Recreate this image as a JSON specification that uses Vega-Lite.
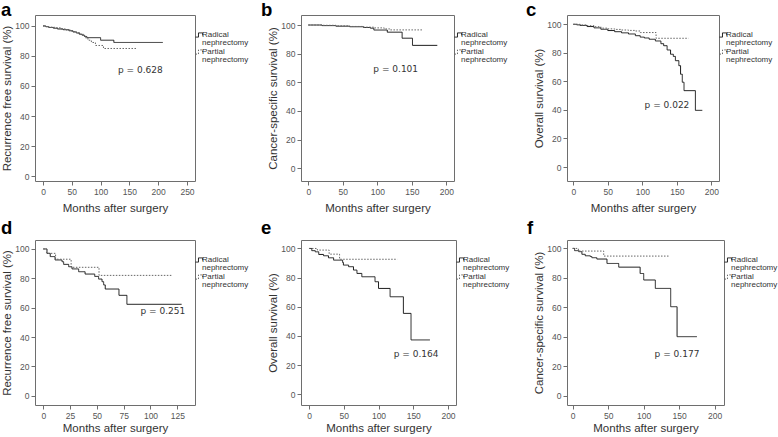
{
  "$schema": "https://vega.github.io/schema/vega-lite/v6.json",
  "padding": {"left": 0, "top": 0, "right": 0, "bottom": 0},
  "background": "white",
  "datasets": {
    "a": [
      {"g": "Radical nephrectomy", "m": 0, "s": 100}, {"g": "Radical nephrectomy", "m": 5, "s": 99.5}, {"g": "Radical nephrectomy", "m": 10, "s": 99}, {"g": "Radical nephrectomy", "m": 18, "s": 98.5}, {"g": "Radical nephrectomy", "m": 25, "s": 98}, {"g": "Radical nephrectomy", "m": 35, "s": 97.5}, {"g": "Radical nephrectomy", "m": 45, "s": 96.8}, {"g": "Radical nephrectomy", "m": 52, "s": 96}, {"g": "Radical nephrectomy", "m": 58, "s": 95.3}, {"g": "Radical nephrectomy", "m": 63, "s": 94.5}, {"g": "Radical nephrectomy", "m": 68, "s": 93.8}, {"g": "Radical nephrectomy", "m": 72, "s": 93}, {"g": "Radical nephrectomy", "m": 76, "s": 92.2}, {"g": "Radical nephrectomy", "m": 100, "s": 90.5}, {"g": "Radical nephrectomy", "m": 123, "s": 89}, {"g": "Radical nephrectomy", "m": 208, "s": 89},
      {"g": "Partial nephrectomy", "m": 0, "s": 100}, {"g": "Partial nephrectomy", "m": 4, "s": 99.6}, {"g": "Partial nephrectomy", "m": 10, "s": 99.2}, {"g": "Partial nephrectomy", "m": 20, "s": 98.8}, {"g": "Partial nephrectomy", "m": 30, "s": 98}, {"g": "Partial nephrectomy", "m": 40, "s": 97.3}, {"g": "Partial nephrectomy", "m": 50, "s": 96.3}, {"g": "Partial nephrectomy", "m": 58, "s": 95.5}, {"g": "Partial nephrectomy", "m": 64, "s": 94.5}, {"g": "Partial nephrectomy", "m": 70, "s": 93.3}, {"g": "Partial nephrectomy", "m": 74, "s": 92}, {"g": "Partial nephrectomy", "m": 78, "s": 90.5}, {"g": "Partial nephrectomy", "m": 84, "s": 89}, {"g": "Partial nephrectomy", "m": 91, "s": 87}, {"g": "Partial nephrectomy", "m": 105, "s": 85}, {"g": "Partial nephrectomy", "m": 163, "s": 85}
    ],
    "b": [
      {"g": "Radical nephrectomy", "m": 0, "s": 100}, {"g": "Radical nephrectomy", "m": 20, "s": 99.6}, {"g": "Radical nephrectomy", "m": 40, "s": 99.2}, {"g": "Radical nephrectomy", "m": 60, "s": 98.8}, {"g": "Radical nephrectomy", "m": 80, "s": 98.3}, {"g": "Radical nephrectomy", "m": 90, "s": 97.8}, {"g": "Radical nephrectomy", "m": 95, "s": 96.5}, {"g": "Radical nephrectomy", "m": 114.5, "s": 95}, {"g": "Radical nephrectomy", "m": 136, "s": 90.8}, {"g": "Radical nephrectomy", "m": 151, "s": 85.8}, {"g": "Radical nephrectomy", "m": 187, "s": 85.8},
      {"g": "Partial nephrectomy", "m": 0, "s": 100}, {"g": "Partial nephrectomy", "m": 20, "s": 99.8}, {"g": "Partial nephrectomy", "m": 40, "s": 99.4}, {"g": "Partial nephrectomy", "m": 60, "s": 99}, {"g": "Partial nephrectomy", "m": 80, "s": 98.5}, {"g": "Partial nephrectomy", "m": 95, "s": 98}, {"g": "Partial nephrectomy", "m": 110, "s": 97.3}, {"g": "Partial nephrectomy", "m": 118, "s": 96.6}, {"g": "Partial nephrectomy", "m": 165, "s": 96.6}
    ],
    "c": [
      {"g": "Radical nephrectomy", "m": 0, "s": 100}, {"g": "Radical nephrectomy", "m": 5, "s": 99.6}, {"g": "Radical nephrectomy", "m": 10, "s": 99.2}, {"g": "Radical nephrectomy", "m": 20, "s": 98.4}, {"g": "Radical nephrectomy", "m": 30, "s": 97.5}, {"g": "Radical nephrectomy", "m": 40, "s": 96.5}, {"g": "Radical nephrectomy", "m": 50, "s": 95.6}, {"g": "Radical nephrectomy", "m": 60, "s": 94.8}, {"g": "Radical nephrectomy", "m": 70, "s": 94}, {"g": "Radical nephrectomy", "m": 80, "s": 93.2}, {"g": "Radical nephrectomy", "m": 90, "s": 92}, {"g": "Radical nephrectomy", "m": 97, "s": 91}, {"g": "Radical nephrectomy", "m": 103, "s": 90.4}, {"g": "Radical nephrectomy", "m": 110, "s": 89.5}, {"g": "Radical nephrectomy", "m": 119, "s": 88.3}, {"g": "Radical nephrectomy", "m": 127, "s": 86.4}, {"g": "Radical nephrectomy", "m": 131, "s": 85}, {"g": "Radical nephrectomy", "m": 136, "s": 82}, {"g": "Radical nephrectomy", "m": 141, "s": 79}, {"g": "Radical nephrectomy", "m": 145, "s": 77.5}, {"g": "Radical nephrectomy", "m": 148, "s": 74.5}, {"g": "Radical nephrectomy", "m": 153, "s": 71}, {"g": "Radical nephrectomy", "m": 155.5, "s": 65}, {"g": "Radical nephrectomy", "m": 158, "s": 59.4}, {"g": "Radical nephrectomy", "m": 160.5, "s": 53.5}, {"g": "Radical nephrectomy", "m": 177, "s": 39.7}, {"g": "Radical nephrectomy", "m": 187, "s": 39.7},
      {"g": "Partial nephrectomy", "m": 0, "s": 100}, {"g": "Partial nephrectomy", "m": 10, "s": 99.5}, {"g": "Partial nephrectomy", "m": 20, "s": 99}, {"g": "Partial nephrectomy", "m": 30, "s": 98.3}, {"g": "Partial nephrectomy", "m": 40, "s": 97.3}, {"g": "Partial nephrectomy", "m": 50, "s": 96.8}, {"g": "Partial nephrectomy", "m": 60, "s": 96.4}, {"g": "Partial nephrectomy", "m": 70, "s": 96}, {"g": "Partial nephrectomy", "m": 80, "s": 95.7}, {"g": "Partial nephrectomy", "m": 90, "s": 95.3}, {"g": "Partial nephrectomy", "m": 97, "s": 94.2}, {"g": "Partial nephrectomy", "m": 120, "s": 90.2}, {"g": "Partial nephrectomy", "m": 167, "s": 90.2}
    ],
    "d": [
      {"g": "Radical nephrectomy", "m": 0, "s": 100}, {"g": "Radical nephrectomy", "m": 3.5, "s": 97}, {"g": "Radical nephrectomy", "m": 6.5, "s": 94.8}, {"g": "Radical nephrectomy", "m": 11, "s": 92.5}, {"g": "Radical nephrectomy", "m": 17.5, "s": 91.3}, {"g": "Radical nephrectomy", "m": 19, "s": 89.5}, {"g": "Radical nephrectomy", "m": 23.7, "s": 87.9}, {"g": "Radical nephrectomy", "m": 26.8, "s": 86.4}, {"g": "Radical nephrectomy", "m": 33, "s": 84.5}, {"g": "Radical nephrectomy", "m": 39, "s": 82.9}, {"g": "Radical nephrectomy", "m": 48, "s": 81.3}, {"g": "Radical nephrectomy", "m": 51.6, "s": 79.5}, {"g": "Radical nephrectomy", "m": 54.8, "s": 77.7}, {"g": "Radical nephrectomy", "m": 56.3, "s": 75.5}, {"g": "Radical nephrectomy", "m": 57.8, "s": 72.7}, {"g": "Radical nephrectomy", "m": 70.6, "s": 68.4}, {"g": "Radical nephrectomy", "m": 78, "s": 62.3}, {"g": "Radical nephrectomy", "m": 129, "s": 62.3},
      {"g": "Partial nephrectomy", "m": 0, "s": 100}, {"g": "Partial nephrectomy", "m": 3, "s": 97}, {"g": "Partial nephrectomy", "m": 11.5, "s": 93}, {"g": "Partial nephrectomy", "m": 26, "s": 87.5}, {"g": "Partial nephrectomy", "m": 52, "s": 82}, {"g": "Partial nephrectomy", "m": 120, "s": 82}
    ],
    "e": [
      {"g": "Radical nephrectomy", "m": 0, "s": 100}, {"g": "Radical nephrectomy", "m": 4, "s": 98.5}, {"g": "Radical nephrectomy", "m": 9, "s": 97.7}, {"g": "Radical nephrectomy", "m": 14, "s": 95.9}, {"g": "Radical nephrectomy", "m": 21, "s": 95}, {"g": "Radical nephrectomy", "m": 28, "s": 93.6}, {"g": "Radical nephrectomy", "m": 35.4, "s": 92}, {"g": "Radical nephrectomy", "m": 48.4, "s": 90.4}, {"g": "Radical nephrectomy", "m": 49.5, "s": 88.6}, {"g": "Radical nephrectomy", "m": 57, "s": 87.5}, {"g": "Radical nephrectomy", "m": 64, "s": 85.2}, {"g": "Radical nephrectomy", "m": 69, "s": 82.9}, {"g": "Radical nephrectomy", "m": 76, "s": 80.6}, {"g": "Radical nephrectomy", "m": 95, "s": 77.2}, {"g": "Radical nephrectomy", "m": 100, "s": 72.6}, {"g": "Radical nephrectomy", "m": 116.7, "s": 66.9}, {"g": "Radical nephrectomy", "m": 135.8, "s": 55.5}, {"g": "Radical nephrectomy", "m": 146.8, "s": 37.3}, {"g": "Radical nephrectomy", "m": 174, "s": 37.3},
      {"g": "Partial nephrectomy", "m": 0, "s": 100}, {"g": "Partial nephrectomy", "m": 12, "s": 98.9}, {"g": "Partial nephrectomy", "m": 29, "s": 96.1}, {"g": "Partial nephrectomy", "m": 44, "s": 92.6}, {"g": "Partial nephrectomy", "m": 127, "s": 92.6}
    ],
    "f": [
      {"g": "Radical nephrectomy", "m": 0, "s": 100}, {"g": "Radical nephrectomy", "m": 2.7, "s": 98.5}, {"g": "Radical nephrectomy", "m": 8.5, "s": 97.8}, {"g": "Radical nephrectomy", "m": 13, "s": 96}, {"g": "Radical nephrectomy", "m": 17.7, "s": 95}, {"g": "Radical nephrectomy", "m": 24.8, "s": 94.5}, {"g": "Radical nephrectomy", "m": 27, "s": 93.7}, {"g": "Radical nephrectomy", "m": 34, "s": 92.8}, {"g": "Radical nephrectomy", "m": 48.3, "s": 89.8}, {"g": "Radical nephrectomy", "m": 64.8, "s": 87.3}, {"g": "Radical nephrectomy", "m": 95, "s": 83}, {"g": "Radical nephrectomy", "m": 100, "s": 78.6}, {"g": "Radical nephrectomy", "m": 116.4, "s": 72.9}, {"g": "Radical nephrectomy", "m": 138, "s": 60.5}, {"g": "Radical nephrectomy", "m": 147, "s": 40.2}, {"g": "Radical nephrectomy", "m": 175, "s": 40.2},
      {"g": "Partial nephrectomy", "m": 0, "s": 100}, {"g": "Partial nephrectomy", "m": 8, "s": 98.2}, {"g": "Partial nephrectomy", "m": 43.7, "s": 94.8}, {"g": "Partial nephrectomy", "m": 135, "s": 94.8}
    ]
  },
  "columns": 3,
  "spacing": {"row": 59, "column": 106},
  "bounds": "flush",
  "align": "all",
  "resolve": {"scale": {"x": "independent", "y": "independent", "color": "independent", "strokeDash": "independent"}, "legend": {"color": "independent", "strokeDash": "independent"}},
  "concat": [
    {
      "width": 160, "height": 166,
      "title": {"text": "a", "dx": -34, "offset": -4},
      "layer": [
        {
          "data": {"name": "a"},
          "mark": {"type": "line", "interpolate": "step-after", "strokeWidth": 1},
          "encoding": {
            "x": {"field": "m", "type": "quantitative", "scale": {"domain": [-13.9, 263.9], "nice": false, "zero": false}, "axis": {"values": [0, 50, 100, 150, 200, 250], "tickCount": 12, "title": "Months after surgery", "titlePadding": 7}},
            "y": {"field": "s", "type": "quantitative", "scale": {"domain": [-3.3, 107.3], "nice": false, "zero": false}, "axis": {"values": [0, 20, 40, 60, 80, 100], "tickCount": 12, "title": "Recurrence free survival (%)"}},
            "color": {"field": "g", "type": "nominal", "scale": {"domain": ["Radical nephrectomy", "Partial nephrectomy"], "range": ["#1a1a1a", "#666666"]}, "legend": {"title": null, "labelExpr": "datum.label == 'Radical nephrectomy' ? ['\u00a0\u00a0\u00a0Radical', 'nephrectomy'] : ['\u00a0\u00a0\u00a0Partial', 'nephrectomy']", "encode": {"labels": {"update": {"lineHeight": {"value": 8}}}}}},
            "strokeDash": {"field": "g", "type": "nominal", "scale": {"domain": ["Radical nephrectomy", "Partial nephrectomy"], "range": [[1, 0], [1.5, 1.5]]}, "legend": {"title": null, "labelExpr": "datum.label == 'Radical nephrectomy' ? ['\u00a0\u00a0\u00a0Radical', 'nephrectomy'] : ['\u00a0\u00a0\u00a0Partial', 'nephrectomy']", "encode": {"labels": {"update": {"lineHeight": {"value": 8}}}}}}
          }
        },
        {
          "data": {"values": [{"p": "p = 0.628"}]},
          "mark": {"type": "text", "font": "DejaVu Sans", "fontSize": 9, "color": "#333"},
          "encoding": {"x": {"datum": 169}, "y": {"datum": 70.7}, "text": {"field": "p"}}
        }
      ]
    },
    {
      "width": 153, "height": 166,
      "title": {"text": "b", "dx": -40, "offset": -4},
      "layer": [
        {
          "data": {"name": "b"},
          "mark": {"type": "line", "interpolate": "step-after", "strokeWidth": 1},
          "encoding": {
            "x": {"field": "m", "type": "quantitative", "scale": {"domain": [-10.6, 211.2], "nice": false, "zero": false}, "axis": {"values": [0, 50, 100, 150, 200], "tickCount": 12, "title": "Months after surgery", "titlePadding": 7}},
            "y": {"field": "s", "type": "quantitative", "scale": {"domain": [-8.9, 107], "nice": false, "zero": false}, "axis": {"values": [0, 20, 40, 60, 80, 100], "tickCount": 12, "title": "Cancer-specific survival (%)"}},
            "color": {"field": "g", "type": "nominal", "scale": {"domain": ["Radical nephrectomy", "Partial nephrectomy"], "range": ["#1a1a1a", "#666666"]}, "legend": {"title": null, "labelExpr": "datum.label == 'Radical nephrectomy' ? ['\u00a0\u00a0\u00a0Radical', 'nephrectomy'] : ['\u00a0\u00a0\u00a0Partial', 'nephrectomy']", "encode": {"labels": {"update": {"lineHeight": {"value": 8}}}}}},
            "strokeDash": {"field": "g", "type": "nominal", "scale": {"domain": ["Radical nephrectomy", "Partial nephrectomy"], "range": [[1, 0], [1.5, 1.5]]}, "legend": {"title": null, "labelExpr": "datum.label == 'Radical nephrectomy' ? ['\u00a0\u00a0\u00a0Radical', 'nephrectomy'] : ['\u00a0\u00a0\u00a0Partial', 'nephrectomy']", "encode": {"labels": {"update": {"lineHeight": {"value": 8}}}}}}
          }
        },
        {
          "data": {"values": [{"p": "p = 0.101"}]},
          "mark": {"type": "text", "font": "DejaVu Sans", "fontSize": 9, "color": "#333"},
          "encoding": {"x": {"datum": 126.7}, "y": {"datum": 69.3}, "text": {"field": "p"}}
        }
      ]
    },
    {
      "width": 152, "height": 166,
      "title": {"text": "c", "dx": -41, "offset": -4},
      "layer": [
        {
          "data": {"name": "c"},
          "mark": {"type": "line", "interpolate": "step-after", "strokeWidth": 1},
          "encoding": {
            "x": {"field": "m", "type": "quantitative", "scale": {"domain": [-9.1, 211.2], "nice": false, "zero": false}, "axis": {"values": [0, 50, 100, 150, 200], "tickCount": 12, "title": "Months after surgery", "titlePadding": 7}},
            "y": {"field": "s", "type": "quantitative", "scale": {"domain": [-9.8, 106.5], "nice": false, "zero": false}, "axis": {"values": [0, 20, 40, 60, 80, 100], "tickCount": 12, "title": "Overall survival (%)"}},
            "color": {"field": "g", "type": "nominal", "scale": {"domain": ["Radical nephrectomy", "Partial nephrectomy"], "range": ["#1a1a1a", "#666666"]}, "legend": {"title": null, "labelExpr": "datum.label == 'Radical nephrectomy' ? ['\u00a0\u00a0\u00a0Radical', 'nephrectomy'] : ['\u00a0\u00a0\u00a0Partial', 'nephrectomy']", "encode": {"labels": {"update": {"lineHeight": {"value": 8}}}}}},
            "strokeDash": {"field": "g", "type": "nominal", "scale": {"domain": ["Radical nephrectomy", "Partial nephrectomy"], "range": [[1, 0], [1.5, 1.5]]}, "legend": {"title": null, "labelExpr": "datum.label == 'Radical nephrectomy' ? ['\u00a0\u00a0\u00a0Radical', 'nephrectomy'] : ['\u00a0\u00a0\u00a0Partial', 'nephrectomy']", "encode": {"labels": {"update": {"lineHeight": {"value": 8}}}}}}
          }
        },
        {
          "data": {"values": [{"p": "p = 0.022"}]},
          "mark": {"type": "text", "font": "DejaVu Sans", "fontSize": 9, "color": "#333"},
          "encoding": {"x": {"datum": 135.8}, "y": {"datum": 43.4}, "text": {"field": "p"}}
        }
      ]
    },
    {
      "width": 160, "height": 165,
      "title": {"text": "d", "dx": -34, "offset": 3},
      "layer": [
        {
          "data": {"name": "d"},
          "mark": {"type": "line", "interpolate": "step-after", "strokeWidth": 1},
          "encoding": {
            "x": {"field": "m", "type": "quantitative", "scale": {"domain": [-7.7, 141.5], "nice": false, "zero": false}, "axis": {"values": [0, 25, 50, 75, 100, 125], "tickCount": 12, "title": "Months after surgery", "titlePadding": 3}},
            "y": {"field": "s", "type": "quantitative", "scale": {"domain": [-6.3, 106.1], "nice": false, "zero": false}, "axis": {"values": [0, 20, 40, 60, 80, 100], "tickCount": 12, "title": "Recurrence free survival (%)"}},
            "color": {"field": "g", "type": "nominal", "scale": {"domain": ["Radical nephrectomy", "Partial nephrectomy"], "range": ["#1a1a1a", "#666666"]}, "legend": {"title": null, "labelExpr": "datum.label == 'Radical nephrectomy' ? ['\u00a0\u00a0\u00a0Radical', 'nephrectomy'] : ['\u00a0\u00a0\u00a0Partial', 'nephrectomy']", "encode": {"labels": {"update": {"lineHeight": {"value": 8}}}}}},
            "strokeDash": {"field": "g", "type": "nominal", "scale": {"domain": ["Radical nephrectomy", "Partial nephrectomy"], "range": [[1, 0], [1.5, 1.5]]}, "legend": {"title": null, "labelExpr": "datum.label == 'Radical nephrectomy' ? ['\u00a0\u00a0\u00a0Radical', 'nephrectomy'] : ['\u00a0\u00a0\u00a0Partial', 'nephrectomy']", "encode": {"labels": {"update": {"lineHeight": {"value": 8}}}}}}
          }
        },
        {
          "data": {"values": [{"p": "p = 0.251"}]},
          "mark": {"type": "text", "font": "DejaVu Sans", "fontSize": 9, "color": "#333"},
          "encoding": {"x": {"datum": 111.5}, "y": {"datum": 57.5}, "text": {"field": "p"}}
        }
      ]
    },
    {
      "width": 155, "height": 165,
      "title": {"text": "e", "dx": -40, "offset": 3},
      "layer": [
        {
          "data": {"name": "e"},
          "mark": {"type": "line", "interpolate": "step-after", "strokeWidth": 1},
          "encoding": {
            "x": {"field": "m", "type": "quantitative", "scale": {"domain": [-11.5, 211.5], "nice": false, "zero": false}, "axis": {"values": [0, 50, 100, 150, 200], "tickCount": 12, "title": "Months after surgery", "titlePadding": 3}},
            "y": {"field": "s", "type": "quantitative", "scale": {"domain": [-7.3, 105.8], "nice": false, "zero": false}, "axis": {"values": [0, 20, 40, 60, 80, 100], "tickCount": 12, "title": "Overall survival (%)"}},
            "color": {"field": "g", "type": "nominal", "scale": {"domain": ["Radical nephrectomy", "Partial nephrectomy"], "range": ["#1a1a1a", "#666666"]}, "legend": {"title": null, "labelExpr": "datum.label == 'Radical nephrectomy' ? ['\u00a0\u00a0\u00a0Radical', 'nephrectomy'] : ['\u00a0\u00a0\u00a0Partial', 'nephrectomy']", "encode": {"labels": {"update": {"lineHeight": {"value": 8}}}}}},
            "strokeDash": {"field": "g", "type": "nominal", "scale": {"domain": ["Radical nephrectomy", "Partial nephrectomy"], "range": [[1, 0], [1.5, 1.5]]}, "legend": {"title": null, "labelExpr": "datum.label == 'Radical nephrectomy' ? ['\u00a0\u00a0\u00a0Radical', 'nephrectomy'] : ['\u00a0\u00a0\u00a0Partial', 'nephrectomy']", "encode": {"labels": {"update": {"lineHeight": {"value": 8}}}}}}
          }
        },
        {
          "data": {"values": [{"p": "p = 0.164"}]},
          "mark": {"type": "text", "font": "DejaVu Sans", "fontSize": 9, "color": "#333"},
          "encoding": {"x": {"datum": 154.2}, "y": {"datum": 27.7}, "text": {"field": "p"}}
        }
      ]
    },
    {
      "width": 157, "height": 165,
      "title": {"text": "f", "dx": -40, "offset": 3},
      "layer": [
        {
          "data": {"name": "f"},
          "mark": {"type": "line", "interpolate": "step-after", "strokeWidth": 1},
          "encoding": {
            "x": {"field": "m", "type": "quantitative", "scale": {"domain": [-8, 213.1], "nice": false, "zero": false}, "axis": {"values": [0, 50, 100, 150, 200], "tickCount": 12, "title": "Months after surgery", "titlePadding": 3}},
            "y": {"field": "s", "type": "quantitative", "scale": {"domain": [-6.1, 105.7], "nice": false, "zero": false}, "axis": {"values": [0, 20, 40, 60, 80, 100], "tickCount": 12, "title": "Cancer-specific survival (%)"}},
            "color": {"field": "g", "type": "nominal", "scale": {"domain": ["Radical nephrectomy", "Partial nephrectomy"], "range": ["#1a1a1a", "#666666"]}, "legend": {"title": null, "labelExpr": "datum.label == 'Radical nephrectomy' ? ['\u00a0\u00a0\u00a0Radical', 'nephrectomy'] : ['\u00a0\u00a0\u00a0Partial', 'nephrectomy']", "encode": {"labels": {"update": {"lineHeight": {"value": 8}}}}}},
            "strokeDash": {"field": "g", "type": "nominal", "scale": {"domain": ["Radical nephrectomy", "Partial nephrectomy"], "range": [[1, 0], [1.5, 1.5]]}, "legend": {"title": null, "labelExpr": "datum.label == 'Radical nephrectomy' ? ['\u00a0\u00a0\u00a0Radical', 'nephrectomy'] : ['\u00a0\u00a0\u00a0Partial', 'nephrectomy']", "encode": {"labels": {"update": {"lineHeight": {"value": 8}}}}}}
          }
        },
        {
          "data": {"values": [{"p": "p = 0.177"}]},
          "mark": {"type": "text", "font": "DejaVu Sans", "fontSize": 9, "color": "#333"},
          "encoding": {"x": {"datum": 146.9}, "y": {"datum": 28.5}, "text": {"field": "p"}}
        }
      ]
    }
  ],
  "config": {
    "view": {"stroke": "#6e6e6e", "strokeWidth": 1},
    "axis": {"domain": false, "grid": false, "tickColor": "#6e6e6e", "tickSize": 4, "labelFont": "Liberation Sans", "labelFontSize": 8.5, "labelColor": "#555", "labelPadding": 2, "labelOverlap": false, "labelFlush": false, "titleFont": "Liberation Sans", "titleFontSize": 11.5, "titleFontWeight": "normal", "titleColor": "#333"},
    "axisY": {"titlePadding": 2},
    "legend": {"orient": "right", "offset": -16, "padding": 16, "symbolType": "M-1,0.6H-0.15V-0.6H1V0.1", "symbolSize": 49, "symbolStrokeWidth": 1, "symbolFillColor": "transparent", "labelFont": "Liberation Sans", "labelFontSize": 8, "labelColor": "#333", "labelOffset": -1, "rowPadding": 0},
    "title": {"anchor": "start", "frame": "group", "font": "Liberation Sans", "fontSize": 18.5, "fontWeight": "bold", "color": "#000", "baseline": "alphabetic"}
  }
}
